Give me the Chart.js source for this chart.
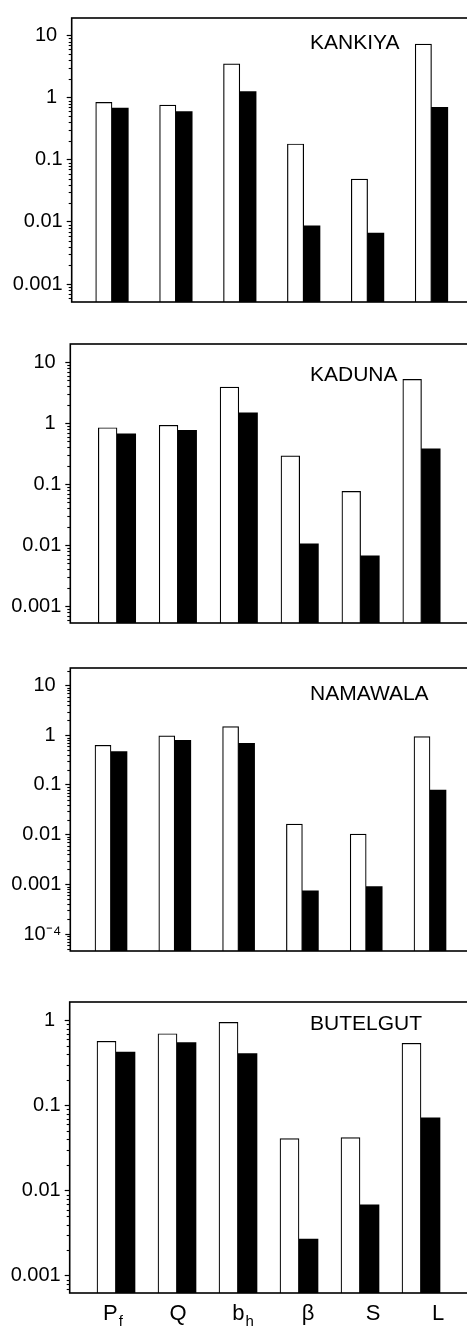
<!DOCTYPE html>
<html>
<head>
<meta charset="utf-8">
<script src="https://cdn.jsdelivr.net/npm/chart.js@4.4.1/dist/chart.umd.min.js"></script>
<style>
  html, body { margin: 0; padding: 0; background: #fff; overflow: hidden; }
  body { width: 467px; height: 1329px; position: relative; }
  canvas { position: absolute; left: 0; }
</style>
</head>
<body>
<canvas id="kankiya"></canvas>
<canvas id="kaduna"></canvas>
<canvas id="namawala"></canvas>
<canvas id="butelgut"></canvas>
<script>
// parameters on the x axis (main letter + subscript)
const categories = ['Pf', 'Q', 'bh', 'β', 'S', 'L'];
const labelMain = ['P', 'Q', 'b', 'β', 'S', 'L'];
const labelSub = ['f', '', 'h', '', '', ''];

// open bars / filled bars, one pair per site
const kankiyaOpen = [0.84, 0.76, 3.5, 0.18, 0.049, 7.3];
const kankiyaFilled = [0.68, 0.60, 1.26, 0.0087, 0.0066, 0.70];

const kadunaOpen = [0.84, 0.92, 3.9, 0.29, 0.076, 5.2];
const kadunaFilled = [0.67, 0.76, 1.47, 0.0105, 0.0067, 0.38];

const namawalaOpen = [0.63, 0.97, 1.5, 0.0163, 0.0103, 0.94];
const namawalaFilled = [0.47, 0.79, 0.69, 0.00074, 0.0009, 0.079];

const butelgutOpen = [0.57, 0.70, 0.95, 0.041, 0.042, 0.54];
const butelgutFilled = [0.425, 0.55, 0.41, 0.0027, 0.0068, 0.072];

// y tick labels
const decadeTicks = [10, 1, 0.1, 0.01, 0.001];
const decadeLabels = ['10', '1', '0.1', '0.01', '0.001'];
const namawalaTicks = [10, 1, 0.1, 0.01, 0.001, 0.0001];
const namawalaLabels = ['10', '1', '0.1', '0.01', '0.001', '10⁻⁴'];
const butelgutTicks = [1, 0.1, 0.01, 0.001];
const butelgutLabels = ['1', '0.1', '0.01', '0.001'];

const FONT = '"Liberation Sans", Arial, Helvetica, sans-serif';
const CANVAS_W = 480;
const AREA_RIGHT = 476;

const panels = [
    { id: 'kankiya', title: 'KANKIYA', open: kankiyaOpen, filled: kankiyaFilled,
      ticks: decadeTicks, tickLabels: decadeLabels,
      top: 6.7, bottom: 313.3, left: 71.7, center0: 112, step: 63.9, bar: 16.3,
      minExp: -3.288, maxExp: 1.283, titleY: 30.6, xLabels: false },
    { id: 'kaduna', title: 'KADUNA', open: kadunaOpen, filled: kadunaFilled,
      ticks: decadeTicks, tickLabels: decadeLabels,
      top: 332.7, bottom: 635, left: 70.3, center0: 117, step: 60.9, bar: 18.7,
      minExp: -3.277, maxExp: 1.297, titleY: 36.6, xLabels: false },
    { id: 'namawala', title: 'NAMAWALA', open: namawalaOpen, filled: namawalaFilled,
      ticks: namawalaTicks, tickLabels: namawalaLabels,
      top: 656.7, bottom: 962.3, left: 70.3, center0: 111, step: 63.8, bar: 16,
      minExp: -4.341, maxExp: 1.354, titleY: 31.6, xLabels: false },
    { id: 'butelgut', title: 'BUTELGUT', open: butelgutOpen, filled: butelgutFilled,
      ticks: butelgutTicks, tickLabels: butelgutLabels,
      top: 990, bottom: 1293, left: 69.7, center0: 116, step: 61, bar: 19,
      minExp: -3.203, maxExp: 0.218, titleY: 28.3, xLabels: true }
];

// frame, minor ticks, site name and x labels
const decorPlugin = {
    id: 'decor',
    afterDatasetsDraw(chart, args, opts) {
        const { ctx, chartArea: a } = chart;
        const y = chart.scales.y;
        ctx.save();
        ctx.strokeStyle = '#000';

        // minor log ticks
        ctx.lineWidth = 1.1;
        for (let e = Math.floor(opts.minExp); e <= Math.ceil(opts.maxExp); e++) {
            for (let k = 2; k <= 9; k++) {
                const v = k * Math.pow(10, e);
                if (v < y.min || v > y.max) continue;
                const py = Math.round(y.getPixelForValue(v)) + 0.5;
                ctx.beginPath();
                ctx.moveTo(a.left - 3, py);
                ctx.lineTo(a.left, py);
                ctx.stroke();
            }
        }

        ctx.lineWidth = 1.6;
        ctx.strokeRect(a.left, a.top, a.right - a.left, a.bottom - a.top);

        ctx.fillStyle = '#000';
        ctx.font = '21px ' + FONT;
        ctx.textAlign = 'left';
        ctx.textBaseline = 'alphabetic';
        ctx.fillText(opts.title, 310, a.top + opts.titleY);

        if (opts.xLabels) {
            const x = chart.scales.x;
            const base = a.bottom + 27;
            labelMain.forEach((m, i) => {
                const cx = x.getPixelForValue(i * 1.066 - 0.05);
                ctx.font = '22px ' + FONT;
                const wm = ctx.measureText(m).width;
                ctx.font = '15px ' + FONT;
                const ws = labelSub[i] ? ctx.measureText(labelSub[i]).width + 1 : 0;
                const x0 = cx - (wm + ws) / 2;
                ctx.font = '22px ' + FONT;
                ctx.fillText(m, x0, base);
                if (labelSub[i]) {
                    ctx.font = '15px ' + FONT;
                    ctx.fillText(labelSub[i], x0 + wm + 1, base + 6);
                }
            });
        }
        ctx.restore();
    }
};

panels.forEach(p => {
    const canvas = document.getElementById(p.id);
    const canvasTop = Math.floor(p.top) - 4;
    const padBottom = p.xLabels ? 36 : 4;
    const canvasH = Math.ceil(p.bottom) + padBottom - canvasTop;
    canvas.width = CANVAS_W;
    canvas.height = canvasH;
    canvas.style.top = canvasTop + 'px';
    canvas.style.width = CANVAS_W + 'px';
    canvas.style.height = canvasH + 'px';

    const xMin = -(p.center0 - p.left) / p.step;
    const xMax = xMin + (AREA_RIGHT - p.left) / p.step;

    new Chart(canvas.getContext('2d'), {
        type: 'bar',
        data: {
            datasets: [
                {
                    label: 'open',
                    data: categories.map((c, i) => ({ x: i, y: p.open[i] })),
                    backgroundColor: '#ffffff',
                    borderColor: '#000000',
                    borderWidth: 1.2,
                    barThickness: p.bar
                },
                {
                    label: 'filled',
                    data: categories.map((c, i) => ({ x: i, y: p.filled[i] })),
                    backgroundColor: '#000000',
                    borderColor: '#000000',
                    borderWidth: 0,
                    barThickness: p.bar
                }
            ]
        },
        options: {
            responsive: false,
            animation: false,
            devicePixelRatio: 1,
            layout: {
                padding: {
                    top: p.top - canvasTop,
                    bottom: canvasH - (p.bottom - canvasTop),
                    left: 0,
                    right: CANVAS_W - AREA_RIGHT
                }
            },
            plugins: {
                legend: { display: false },
                tooltip: { enabled: false },
                decor: { title: p.title, titleY: p.titleY, minExp: p.minExp, maxExp: p.maxExp, xLabels: p.xLabels }
            },
            scales: {
                x: {
                    type: 'linear',
                    display: false,
                    offset: false,
                    min: xMin,
                    max: xMax,
                    grid: { offset: false }
                },
                y: {
                    type: 'logarithmic',
                    bounds: 'data',
                    min: Math.pow(10, p.minExp),
                    max: Math.pow(10, p.maxExp),
                    border: { display: false },
                    grid: {
                        drawOnChartArea: false,
                        drawTicks: true,
                        tickLength: 5,
                        tickWidth: 1.2,
                        tickColor: '#000'
                    },
                    ticks: {
                        autoSkip: false,
                        padding: 4,
                        color: '#000',
                        font: { family: FONT, size: 20 },
                        callback: (value, index) => p.tickLabels[index] + (value >= 1 ? ' ' : '')
                    },
                    afterBuildTicks: scale => {
                        scale.ticks = p.ticks.map(v => ({ value: v, major: true }));
                    },
                    afterFit: scale => {
                        scale.width = p.left;
                    }
                }
            }
        },
        plugins: [decorPlugin]
    });
});
</script>
</body>
</html>
